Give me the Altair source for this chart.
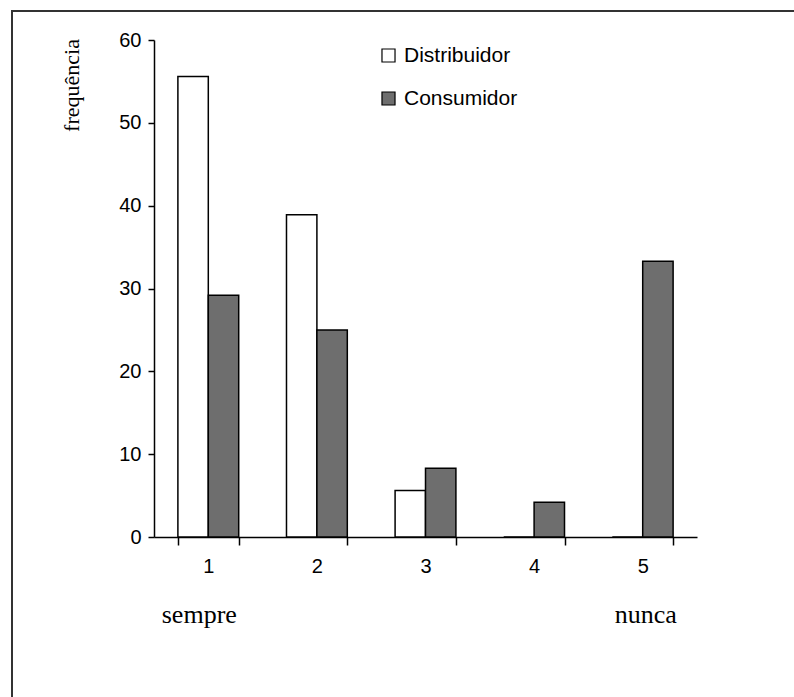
import altair as alt
import pandas as pd

categories = ["1", "2", "3", "4", "5"]
distribuidor = [55.6, 38.9, 5.6, 0.0, 0.0]
consumidor = [29.2, 25.0, 8.3, 4.2, 33.3]
series_names = ["Distribuidor", "Consumidor"]
end_labels = ["sempre", "nunca"]
end_cats = ["1", "5"]
end_dx = [-9, 3]

rows = []
for c, d, k in zip(categories, distribuidor, consumidor):
    rows.append({"cat": c, "serie": series_names[0], "valor": d})
    rows.append({"cat": c, "serie": series_names[1], "valor": k})
df = pd.DataFrame(rows)
df_lab = pd.DataFrame({"cat": end_cats, "lab": end_labels})

W, H = 543, 497
PL, PT = 154, 40

xscale = alt.Scale(domain=categories, paddingInner=0.44, paddingOuter=0.22)

bars = alt.Chart(df).mark_bar(stroke="black", strokeWidth=1.5).encode(
    x=alt.X("cat:N", scale=xscale, sort=categories,
            axis=alt.Axis(title=None, labelAngle=0, tickBand="extent",
                          tickSize=8, labelPadding=11, labelFontSize=20,
                          labelFont="Liberation Sans", labelColor="black",
                          domainColor="black", tickColor="black",
                          domainWidth=1.5, tickWidth=1.5)),
    xOffset=alt.XOffset("serie:N", sort=series_names, scale=alt.Scale(paddingInner=0, paddingOuter=0)),
    y=alt.Y("valor:Q", scale=alt.Scale(domain=[0, 60], nice=False),
            axis=alt.Axis(title="frequência", values=[0, 10, 20, 30, 40, 50, 60],
                          tickSize=6, labelPadding=7, labelFontSize=20,
                          labelFont="Liberation Sans", labelColor="black",
                          domainColor="black", tickColor="black",
                          domainWidth=1.5, tickWidth=1.5, grid=False,
                          titleFont="Liberation Serif", titleFontSize=22,
                          titleFontWeight="normal", titleColor="black",
                          titleAngle=270, titleX=-83, titleY=45,
                          titleAlign="center", titleBaseline="middle")),
    color=alt.Color("serie:N", sort=series_names,
                    scale=alt.Scale(domain=series_names, range=["white", "#6e6e6e"]),
                    legend=alt.Legend(title=None, orient="none", legendX=224, legendY=5,
                                      symbolType="square", symbolSize=170,
                                      symbolStrokeColor="black", symbolStrokeWidth=1.2,
                                      labelFont="Liberation Sans", labelFontSize=21,
                                      labelColor="black", rowPadding=21, labelOffset=5)),
)

sempre = alt.Chart(df_lab.iloc[[0]]).mark_text(font="Liberation Serif", fontSize=26,
                                               color="black", baseline="alphabetic",
                                               dx=end_dx[0]).encode(
    x=alt.X("cat:N", scale=xscale, sort=categories),
    y=alt.value(H + 86),
    text="lab:N",
)
nunca = alt.Chart(df_lab.iloc[[1]]).mark_text(font="Liberation Serif", fontSize=26,
                                              color="black", baseline="alphabetic",
                                              dx=end_dx[1]).encode(
    x=alt.X("cat:N", scale=xscale, sort=categories),
    y=alt.value(H + 86),
    text="lab:N",
)

frame_top = alt.Chart(df_lab).mark_rule(color="#333333", strokeWidth=2).encode(
    x=alt.value(11 - PL), x2=alt.value(900), y=alt.value(11 - PT)
)
frame_left = alt.Chart(df_lab).mark_rule(color="#333333", strokeWidth=2).encode(
    x=alt.value(12 - PL), y=alt.value(11 - PT), y2=alt.value(800)
)

chart = alt.layer(bars, sempre, nunca, frame_top, frame_left).properties(
    width=W, height=H,
    autosize=alt.AutoSizeParams(type="none"),
    padding={"left": PL, "top": PT, "right": 794 - PL - W, "bottom": 697 - PT - H},
    background="white",
).configure_view(stroke=None)

chart.save("out.html", embed_options={"renderer": "svg", "actions": False})
